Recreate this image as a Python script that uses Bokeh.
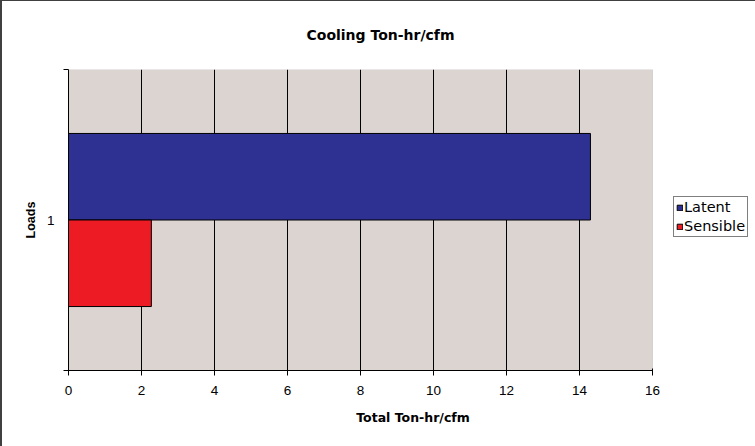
from bokeh.plotting import figure
from bokeh.models import (Range1d, FixedTicker, Legend, LegendItem, Title,
                          ColumnDataSource, BoxAnnotation, InlineStyleSheet)
from bokeh.embed import file_html
from bokeh.resources import INLINE

# Data
title_text = "Cooling Ton-hr/cfm"
loads = ["1"]
series = ["Latent", "Sensible"]
latent = [14.3]
sensible = [2.27]
x_ticks = [0, 2, 4, 6, 8, 10, 12, 14, 16]
x_max = 16
y_max = 2

FONT = "Liberation Sans"
WIDE = "DejaVu Sans"

W, H = 755, 446
# canvas is shifted by the host border (2px left, 1px top)
left_px, top_px, plot_right_px, bottom_px = 66, 68, 650, 369
xppu = (plot_right_px - left_px) / x_max
x_end = (W - left_px) / xppu      # frame runs to the right edge

p = figure(width=W, height=H, output_backend="svg", toolbar_location=None,
           x_range=Range1d(0, x_end), y_range=Range1d(0, y_max),
           min_border_left=left_px, min_border_right=0, min_border_top=top_px,
           min_border_bottom=H - bottom_px)
p.background_fill_color = "white"
p.border_fill_color = "white"
p.outline_line_color = None
p.stylesheets = [InlineStyleSheet(css=":host { border-top: 1px solid #404040; "
                                      "border-left: 2px solid #404040; "
                                      "box-sizing: border-box; }")]

# grey plot area
area = BoxAnnotation(left=0, right=x_max, bottom=0, top=y_max,
                     fill_color="#DCD4D1", fill_alpha=1,
                     line_color="#9a9a9a", line_width=1, level="image")
p.add_layout(area)

# bars: category "1" centred at y=1, two series split around it
cat_center = 1.0
bar_h = 0.575
src_l = ColumnDataSource(dict(y=[cat_center + bar_h / 2], right=latent, cat=loads))
src_s = ColumnDataSource(dict(y=[cat_center - bar_h / 2], right=sensible, cat=loads))
r_l = p.hbar(y="y", right="right", left=0, height=bar_h, source=src_l,
             fill_color="#2E3192", line_color="black", line_width=1)
r_s = p.hbar(y="y", right="right", left=0, height=bar_h, source=src_s,
             fill_color="#ED1C24", line_color="black", line_width=1)

# x axis
p.xaxis.ticker = FixedTicker(ticks=x_ticks)
p.xaxis.bounds = (0, x_max)
p.xaxis.axis_label = "Total Ton-hr/cfm"
p.xaxis.axis_label_text_font = WIDE
p.xaxis.axis_label_text_font_style = "bold"
p.xaxis.axis_label_text_font_size = "12.5px"
p.xaxis.axis_label_text_color = "black"
p.xaxis.axis_label_standoff = 12
p.xaxis.major_label_text_font = FONT
p.xaxis.major_label_text_font_size = "13.5px"
p.xaxis.major_label_text_color = "black"
p.xaxis.major_label_standoff = 10
p.xaxis.major_tick_out = 5
p.xaxis.major_tick_in = 2
p.xaxis.minor_tick_line_color = None
p.xaxis.axis_line_color = "black"
p.xaxis.major_tick_line_color = "black"

# y axis
p.yaxis.ticker = FixedTicker(ticks=[1], minor_ticks=[0, y_max])
p.yaxis.major_label_overrides = {1: loads[0]}
p.yaxis.axis_label = "Loads"
p.yaxis.axis_label_text_font = FONT
p.yaxis.axis_label_text_font_style = "bold"
p.yaxis.axis_label_text_font_size = "12.5px"
p.yaxis.axis_label_text_color = "black"
p.yaxis.axis_label_standoff = 6
p.yaxis.major_label_text_font = FONT
p.yaxis.major_label_text_font_size = "13.5px"
p.yaxis.major_label_text_color = "black"
p.yaxis.major_tick_out = 0
p.yaxis.major_tick_in = 0
p.yaxis.major_label_standoff = 9
p.yaxis.minor_tick_out = 5
p.yaxis.minor_tick_in = 0
p.yaxis.minor_tick_line_color = "black"
p.yaxis.axis_line_color = "black"

# grid
p.xgrid.grid_line_color = "black"
p.xgrid.grid_line_width = 1
p.xgrid.ticker = FixedTicker(ticks=[t for t in x_ticks if 0 < t < x_max])
p.ygrid.grid_line_color = None

# title: panel fills the top border, text hangs from its top
p.title = Title(text=title_text, align="left", offset=376 - left_px - 72,
                vertical_align="top",
                text_font=WIDE, text_font_style="bold", text_font_size="14px",
                text_color="black", standoff=49)

legend = Legend(items=[LegendItem(label=series[0], renderers=[r_l]),
                       LegendItem(label=series[1], renderers=[r_s])],
                location=(605, 133), orientation="vertical",
                label_text_font=WIDE, label_text_font_size="14.5px",
                label_text_color="black",
                glyph_width=7, glyph_height=7, label_standoff=1,
                spacing=3, padding=2, margin=0,
                border_line_color="black", border_line_width=1,
                background_fill_color="white", background_fill_alpha=1)
p.add_layout(legend, "center")

open("out.html", "w").write(file_html(p, INLINE))
